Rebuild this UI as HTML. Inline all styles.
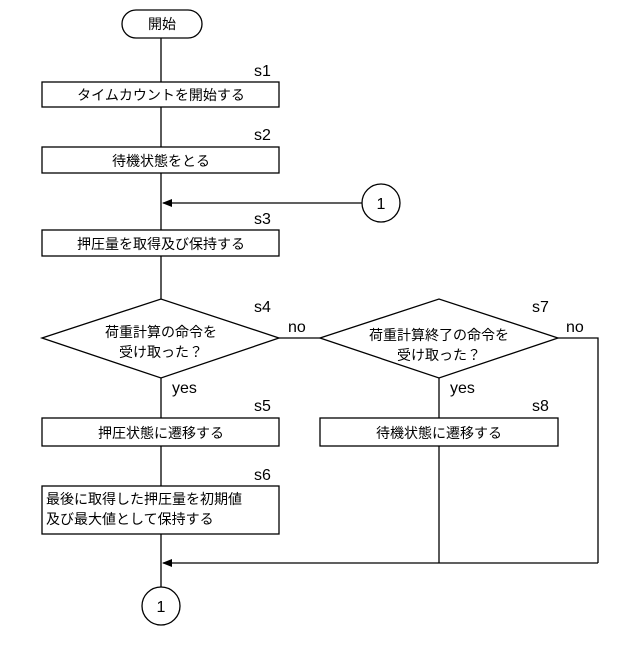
<!DOCTYPE html>
<html><head><meta charset="utf-8"><style>body{margin:0;background:#fff}</style></head><body>
<svg width="640" height="640" viewBox="0 0 640 640" xmlns="http://www.w3.org/2000/svg" font-family="Liberation Sans, Noto Sans CJK JP, sans-serif" font-size="14">
<defs><marker id="a" markerWidth="10" markerHeight="8" refX="9" refY="4" orient="auto" markerUnits="userSpaceOnUse"><path d="M0,0 L10,4 L0,8 z" fill="#000"/></marker></defs>
<g stroke="#000" stroke-width="1.3" fill="none">
<rect x="122" y="10" width="80" height="28" rx="14" fill="#fff"/>
<line x1="161" y1="38" x2="161" y2="82"/>
<rect x="42" y="82" width="237" height="25"/>
<line x1="161" y1="107" x2="161" y2="147"/>
<rect x="42" y="147" width="237" height="26"/>
<line x1="161" y1="173" x2="161" y2="230"/>
<line x1="362" y1="203" x2="163" y2="203" marker-end="url(#a)"/>
<circle cx="381" cy="203" r="19"/>
<rect x="42" y="230" width="237" height="26"/>
<line x1="161" y1="256" x2="161" y2="299"/>
<polygon points="42,338 161,299 279,338 161,378"/>
<line x1="279" y1="338" x2="320" y2="338"/>
<polygon points="320,338 439,299 558,338 439,378"/>
<polyline points="558,338 598,338 598,563"/>
<line x1="161" y1="378" x2="161" y2="418"/>
<line x1="439" y1="378" x2="439" y2="418"/>
<rect x="42" y="418" width="237" height="28"/>
<rect x="320" y="418" width="238" height="28"/>
<line x1="161" y1="446" x2="161" y2="486"/>
<rect x="42" y="486" width="237" height="48"/>
<line x1="161" y1="534" x2="161" y2="587"/>
<line x1="439" y1="446" x2="439" y2="563"/>
<line x1="598" y1="563" x2="163" y2="563" marker-end="url(#a)"/>
<circle cx="161" cy="606" r="19"/>
</g>
<g fill="#000" text-anchor="middle">
<text x="162" y="29">開始</text>
<text x="161" y="100">タイムカウントを開始する</text>
<text x="161" y="166">待機状態をとる</text>
<text x="161" y="249">押圧量を取得及び保持する</text>
<text x="161" y="337">荷重計算の命令を</text>
<text x="161" y="357">受け取った？</text>
<text x="439" y="340">荷重計算終了の命令を</text>
<text x="439" y="360">受け取った？</text>
<text x="161" y="438">押圧状態に遷移する</text>
<text x="439" y="438">待機状態に遷移する</text>
<text x="381" y="209" font-size="16">1</text>
<text x="161" y="612" font-size="16">1</text>
</g>
<g fill="#000" font-size="16">
<text x="254" y="76">s1</text>
<text x="254" y="140">s2</text>
<text x="254" y="224">s3</text>
<text x="254" y="312">s4</text>
<text x="532" y="312">s7</text>
<text x="288" y="332">no</text>
<text x="566" y="332">no</text>
<text x="172" y="393">yes</text>
<text x="450" y="393">yes</text>
<text x="254" y="411">s5</text>
<text x="532" y="411">s8</text>
<text x="254" y="480">s6</text>
</g>
<g fill="#000" font-size="14">
<text x="46" y="504">最後に取得した押圧量を初期値</text>
<text x="46" y="524">及び最大値として保持する</text>
</g>
</svg>
</body></html>
